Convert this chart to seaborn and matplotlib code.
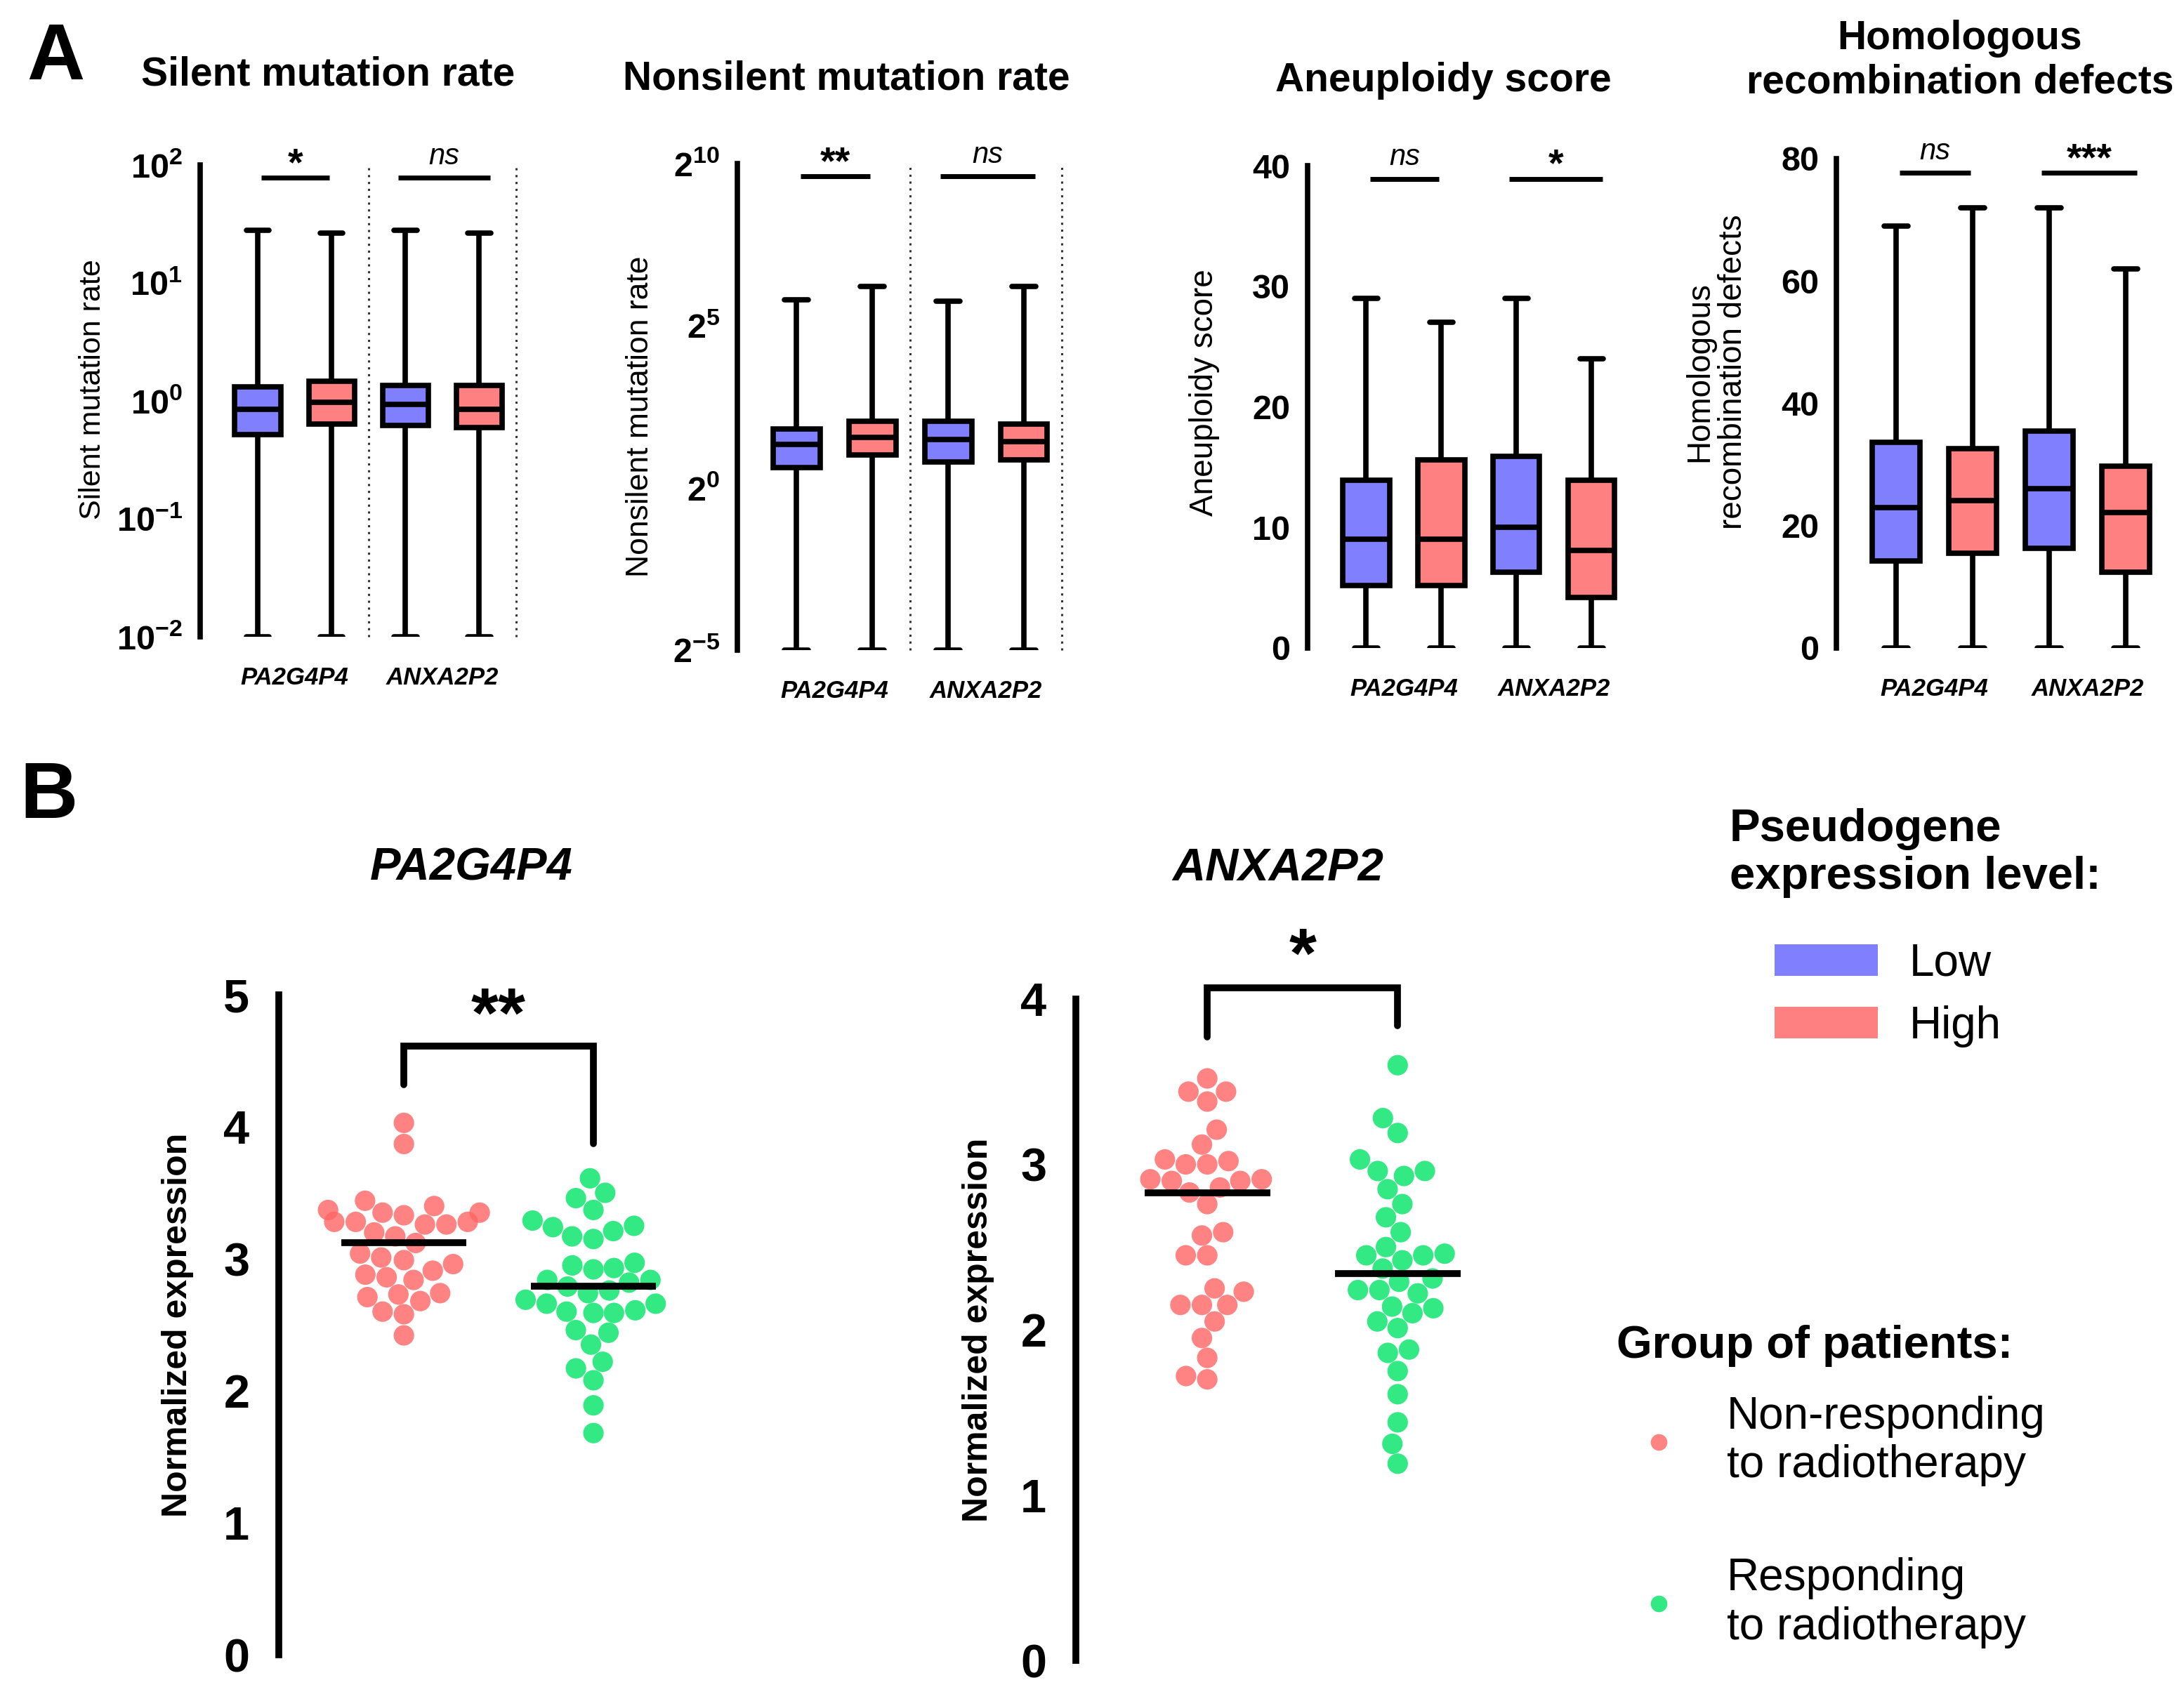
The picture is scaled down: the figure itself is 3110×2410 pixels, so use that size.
import matplotlib
matplotlib.use("Agg")
import matplotlib.pyplot as plt
from matplotlib.patches import Patch
from matplotlib.lines import Line2D
from matplotlib.ticker import NullLocator
import numpy as np
import pandas as pd
import seaborn as sns

# ---------------- data ----------------
genes = ["PA2G4P4", "ANXA2P2"]
box_groups = ["PA2G4P4 Low", "PA2G4P4 High", "ANXA2P2 Low", "ANXA2P2 High"]
box_levels = ["Low", "High", "Low", "High"]

# min, q1, median, q3, max for each box
silent_stats = [
    [0.01, 0.52, 0.85, 1.32, 28.0],
    [0.01, 0.64, 0.97, 1.46, 26.5],
    [0.01, 0.62, 0.94, 1.36, 28.0],
    [0.01, 0.59, 0.85, 1.36, 26.5],
]
nonsilent_stats = [
    [0.03125, 1.54, 2.53, 3.55, 56.0],
    [0.03125, 2.01, 2.95, 4.13, 74.0],
    [0.03125, 1.74, 2.82, 4.13, 54.5],
    [0.03125, 1.83, 2.68, 3.94, 74.0],
]
aneuploidy_stats = [
    [0, 5.2, 9.0, 13.9, 29],
    [0, 5.2, 9.0, 15.6, 27],
    [0, 6.3, 10.0, 15.9, 29],
    [0, 4.2, 8.1, 13.9, 24],
]
hrd_stats = [
    [0, 14.2, 23.0, 33.6, 69],
    [0, 15.5, 24.1, 32.6, 72],
    [0, 16.3, 26.1, 35.5, 72],
    [0, 12.4, 22.1, 29.7, 62],
]

silent_sig = ["*", "ns"]
nonsilent_sig = ["**", "ns"]
aneuploidy_sig = ["ns", "*"]
hrd_sig = ["ns", "***"]

# panel B: normalized expression per patient
pa_nonresp = [4.03, 3.87, 3.44, 3.40, 3.37, 3.35, 3.35, 3.33, 3.28, 3.28, 3.28,
              3.26, 3.26, 3.20, 3.17, 3.12, 3.04, 3.01, 2.99, 2.96, 2.91, 2.88,
              2.86, 2.84, 2.74, 2.73, 2.71, 2.68, 2.60, 2.58, 2.42]
pa_resp = [3.61, 3.50, 3.46, 3.37, 3.29, 3.25, 3.24, 3.21, 3.17, 3.15, 2.97,
           2.95, 2.93, 2.92, 2.84, 2.84, 2.82, 2.79, 2.76, 2.74, 2.69, 2.66,
           2.66, 2.61, 2.60, 2.59, 2.59, 2.46, 2.44, 2.35, 2.22, 2.17, 2.08,
           1.89, 1.68]
anx_nonresp = [3.52, 3.44, 3.44, 3.38, 3.21, 3.12, 3.03, 3.02, 3.00, 3.00, 2.91,
               2.91, 2.90, 2.90, 2.86, 2.83, 2.76, 2.59, 2.57, 2.45, 2.45, 2.25,
               2.23, 2.15, 2.15, 2.15, 2.05, 1.95, 1.83, 1.72, 1.70]
anx_resp = [3.60, 3.28, 3.19, 3.03, 2.96, 2.96, 2.93, 2.85, 2.76, 2.68, 2.59,
            2.50, 2.45, 2.45, 2.46, 2.42, 2.37, 2.31, 2.29, 2.24, 2.24, 2.22,
            2.14, 2.13, 2.10, 2.05, 2.01, 1.88, 1.86, 1.75, 1.61, 1.44, 1.31,
            1.19]
pa_sig = "**"
anx_sig = "*"

patient_groups = ["Non-responding", "Responding"]
level_colors = {"Low": "#8080FF", "High": "#FF8080"}
patient_colors = {"Non-responding": "#FF6464", "Responding": "#00E466"}

# ---------------- style ----------------
sns.set_theme(style="white")
plt.rcParams["font.family"] = ["Liberation Sans", "DejaVu Sans"]
plt.rcParams["mathtext.fontset"] = "custom"
plt.rcParams["mathtext.default"] = "bf"
plt.rcParams["mathtext.bf"] = "Liberation Sans:bold"
plt.rcParams["mathtext.rm"] = "Liberation Sans:bold"
for key in ["text.color", "axes.labelcolor", "xtick.color", "ytick.color"]:
    plt.rcParams[key] = "black"

W, H = 3110, 2410
fig = plt.figure(figsize=(W / 100, H / 100), dpi=100)


def px_axes(left, top, right, bottom):
    return fig.add_axes([left / W, 1 - bottom / H, (right - left) / W, (bottom - top) / H])


def box_frame(stats):
    rows = []
    for grp, lvl, five in zip(box_groups, box_levels, stats):
        for v in five:
            rows.append({"group": grp, "level": lvl, "value": v})
    return pd.DataFrame(rows)


panels_a = [
    dict(box=(285, 235, 735, 907), xmax=3.5, stats=silent_stats, sig=silent_sig,
         log=10, ylim=(0.01, 100), ticks=[0.01, 0.1, 1, 10, 100],
         labels=[r"$10^{-2}$", r"$10^{-1}$", r"$10^{0}$", r"$10^{1}$", r"$10^{2}$"],
         bar_y=78, ylabel="Silent mutation rate", lab_size=31, lab_xy=(-0.296, 0.525),
         dividers=True),
    dict(box=(1050, 233, 1512, 926), xmax=3.5, stats=nonsilent_stats, sig=nonsilent_sig,
         log=2, ylim=(2 ** -5, 2 ** 10), ticks=[2 ** -5, 1, 2 ** 5, 2 ** 10],
         labels=[r"$2^{-5}$", r"$2^{0}$", r"$2^{5}$", r"$2^{10}$"],
         bar_y=2 ** 9.6, ylabel="Nonsilent mutation rate", lab_size=32,
         lab_xy=(-0.255, 0.48), dividers=True),
    dict(box=(1862, 236, 2309, 923), xmax=3.4, stats=aneuploidy_stats, sig=aneuploidy_sig,
         log=None, ylim=(0, 40), ticks=[0, 10, 20, 30, 40],
         labels=["0", "10", "20", "30", "40"],
         bar_y=38.9, ylabel="Aneuploidy score", lab_size=33, lab_xy=(-0.28, 0.53),
         dividers=False),
    dict(box=(2615, 226, 3076, 923), xmax=3.45, stats=hrd_stats, sig=hrd_sig,
         log=None, ylim=(0, 80), ticks=[0, 20, 40, 60, 80],
         labels=["0", "20", "40", "60", "80"],
         bar_y=77.7, ylabel="Homologous\nrecombination defects", lab_size=33,
         lab_xy=(-0.271, 0.565), dividers=False),
]
titles_a = [
    ("Silent mutation rate", 467, 106),
    ("Nonsilent mutation rate", 1205, 112),
    ("Aneuploidy score", 2055, 115),
    ("Homologous\nrecombination defects", 2791, 86),
]

for spec, (title, tx, ty) in zip(panels_a, titles_a):
    ax = px_axes(*spec["box"])
    df = box_frame(spec["stats"])
    kw = {}
    if spec["log"]:
        kw["log_scale"] = spec["log"]
    sns.boxplot(data=df, x="group", y="value", hue="level", order=box_groups,
                hue_order=["Low", "High"], palette=level_colors, dodge=False,
                width=0.62, whis=(0, 100), linewidth=5.5, linecolor="black",
                saturation=1, showfliers=False, legend=False, ax=ax, **kw)
    ax.set_ylim(*spec["ylim"])
    ax.set_yticks(spec["ticks"])
    ax.set_yticklabels(spec["labels"], fontweight="bold")
    ax.yaxis.set_minor_locator(NullLocator())
    ax.set_xlim(-0.78, spec["xmax"])
    ax.set_xticks([0.5, 2.5])
    ax.set_xticklabels(genes, fontsize=25, fontweight="bold", fontstyle="italic")
    ax.tick_params(axis="x", length=0, pad=30)
    ax.tick_params(axis="y", length=12, width=5.5, labelsize=35, pad=6)
    ax.set_xlabel("")
    ax.set_ylabel(spec["ylabel"], fontsize=spec["lab_size"], linespacing=1.1)
    ax.yaxis.set_label_coords(*spec["lab_xy"])
    sns.despine(ax=ax, bottom=True)
    ax.spines["left"].set_linewidth(5.5)
    ax.spines["left"].set_color("black")
    ax.patch.set_alpha(0)

    if spec["dividers"]:
        for xd in (1.5, 3.5):
            ax.plot([xd, xd], spec["ylim"], color="#333333", lw=2.2,
                    linestyle=(0, (1, 2.2)), clip_on=False)

    for (x0, x1), label in zip([(0.05, 0.97), (1.9, 3.15)], spec["sig"]):
        ax.plot([x0, x1], [spec["bar_y"], spec["bar_y"]], color="black", lw=5,
                solid_capstyle="butt", clip_on=False)
        if label == "ns":
            ax.annotate("ns", xy=((x0 + x1) / 2, spec["bar_y"]), xytext=(0, 14),
                        textcoords="offset points", ha="center", va="baseline",
                        fontsize=30, fontstyle="italic", annotation_clip=False)
        else:
            ax.annotate(label, xy=((x0 + x1) / 2, spec["bar_y"]), xytext=(0, 3),
                        textcoords="offset points", ha="center", va="baseline",
                        fontsize=40, fontweight="bold", annotation_clip=False)

    fig.text(tx / W, 1 - ty / H, title, ha="center", va="center", fontsize=41,
             fontweight="bold", linespacing=1.2)

fig.text(79 / W, 1 - 84 / H, "A", ha="center", va="center", fontsize=82, fontweight="bold")
fig.text(69 / W, 1 - 1136 / H, "B", ha="center", va="center", fontsize=82, fontweight="bold")

# ---------------- panel B ----------------
panels_b = [
    dict(box=(397, 1417, 1007, 2357), xmin=-0.66, nonresp=pa_nonresp, resp=pa_resp,
         ymax=5, sig=pa_sig, legs=(4.32, 3.87), bracket=4.61, sig_y=4.68,
         lab_x=-0.198, title="PA2G4P4", title_xy=(671, 1237)),
    dict(box=(1532, 1423, 2153, 2365), xmin=-0.69, nonresp=anx_nonresp, resp=anx_resp,
         ymax=4, sig=anx_sig, legs=(3.77, 3.84), bracket=4.07, sig_y=4.135,
         lab_x=-0.187, title="ANXA2P2", title_xy=(1820, 1237)),
]

for spec in panels_b:
    ax = px_axes(*spec["box"])
    df = pd.DataFrame({
        "group": [patient_groups[0]] * len(spec["nonresp"]) + [patient_groups[1]] * len(spec["resp"]),
        "value": spec["nonresp"] + spec["resp"],
    })
    sns.swarmplot(data=df, x="group", y="value", hue="group", order=patient_groups,
                  palette=patient_colors, size=21, alpha=0.8, linewidth=0,
                  legend=False, warn_thresh=1, ax=ax)
    for i, grp in enumerate(patient_groups):
        med = np.median(df.loc[df["group"] == grp, "value"])
        ax.plot([i - 0.33, i + 0.33], [med, med], color="black", lw=7,
                solid_capstyle="butt", zorder=5)

    ax.plot([0, 0, 1, 1], [spec["legs"][0], spec["bracket"], spec["bracket"], spec["legs"][1]],
            color="black", lw=7, clip_on=False, solid_joinstyle="miter")
    ax.text(0.5, spec["sig_y"], spec["sig"], ha="center", va="baseline",
            fontsize=72, fontweight="bold")

    ax.set_ylim(0, spec["ymax"])
    ax.set_yticks(range(spec["ymax"] + 1))
    ax.set_yticklabels([str(v) for v in range(spec["ymax"] + 1)], fontweight="bold")
    ax.set_xlim(spec["xmin"], 1.6)
    ax.set_xticks([])
    ax.set_xlabel("")
    ax.set_ylabel("Normalized expression", fontsize=36, fontweight="bold")
    ax.yaxis.set_label_coords(spec["lab_x"], 0.5)
    ax.tick_params(axis="y", length=24, width=7, labelsize=48, pad=6)
    sns.despine(ax=ax, bottom=True)
    ax.spines["left"].set_linewidth(7)
    ax.spines["left"].set_color("black")
    ax.patch.set_alpha(0)

    tx, ty = spec["title_xy"]
    fig.text(tx / W, 1 - ty / H, spec["title"], ha="center", va="center", fontsize=47,
             fontweight="bold", fontstyle="italic")

# ---------------- legends ----------------
fig.text(2463 / W, 1 - 1215 / H, "Pseudogene\nexpression level:", ha="left", va="center",
         fontsize=47, fontweight="bold", linespacing=1.15)
level_handles = [Patch(facecolor=level_colors[l], edgecolor="none") for l in ["Low", "High"]]
fig.legend(level_handles, ["Low", "High"], loc="upper left",
           bbox_to_anchor=(2527 / W, 1 - 1343 / H), frameon=False, fontsize=46,
           handlelength=2.3, handleheight=0.7, handletextpad=0.7, labelspacing=0.45,
           borderpad=0, borderaxespad=0)

fig.text(2302 / W, 1 - 1917 / H, "Group of patients:", ha="left", va="center",
         fontsize=47, fontweight="bold")
patient_handles = [Line2D([], [], linestyle="none", marker="o", markersize=17,
                          markerfacecolor=patient_colors[g], markeredgecolor="none", alpha=0.8)
                   for g in patient_groups]
fig.legend(patient_handles, ["Non-responding\nto radiotherapy", "Responding\nto radiotherapy"],
           loc="upper left", bbox_to_anchor=(2312 / W, 1 - 1988 / H), frameon=False,
           fontsize=46, handlelength=1.55, handletextpad=0.75, labelspacing=1.58,
           borderpad=0, borderaxespad=0)

fig.savefig("out.png", dpi=100, facecolor="white")
